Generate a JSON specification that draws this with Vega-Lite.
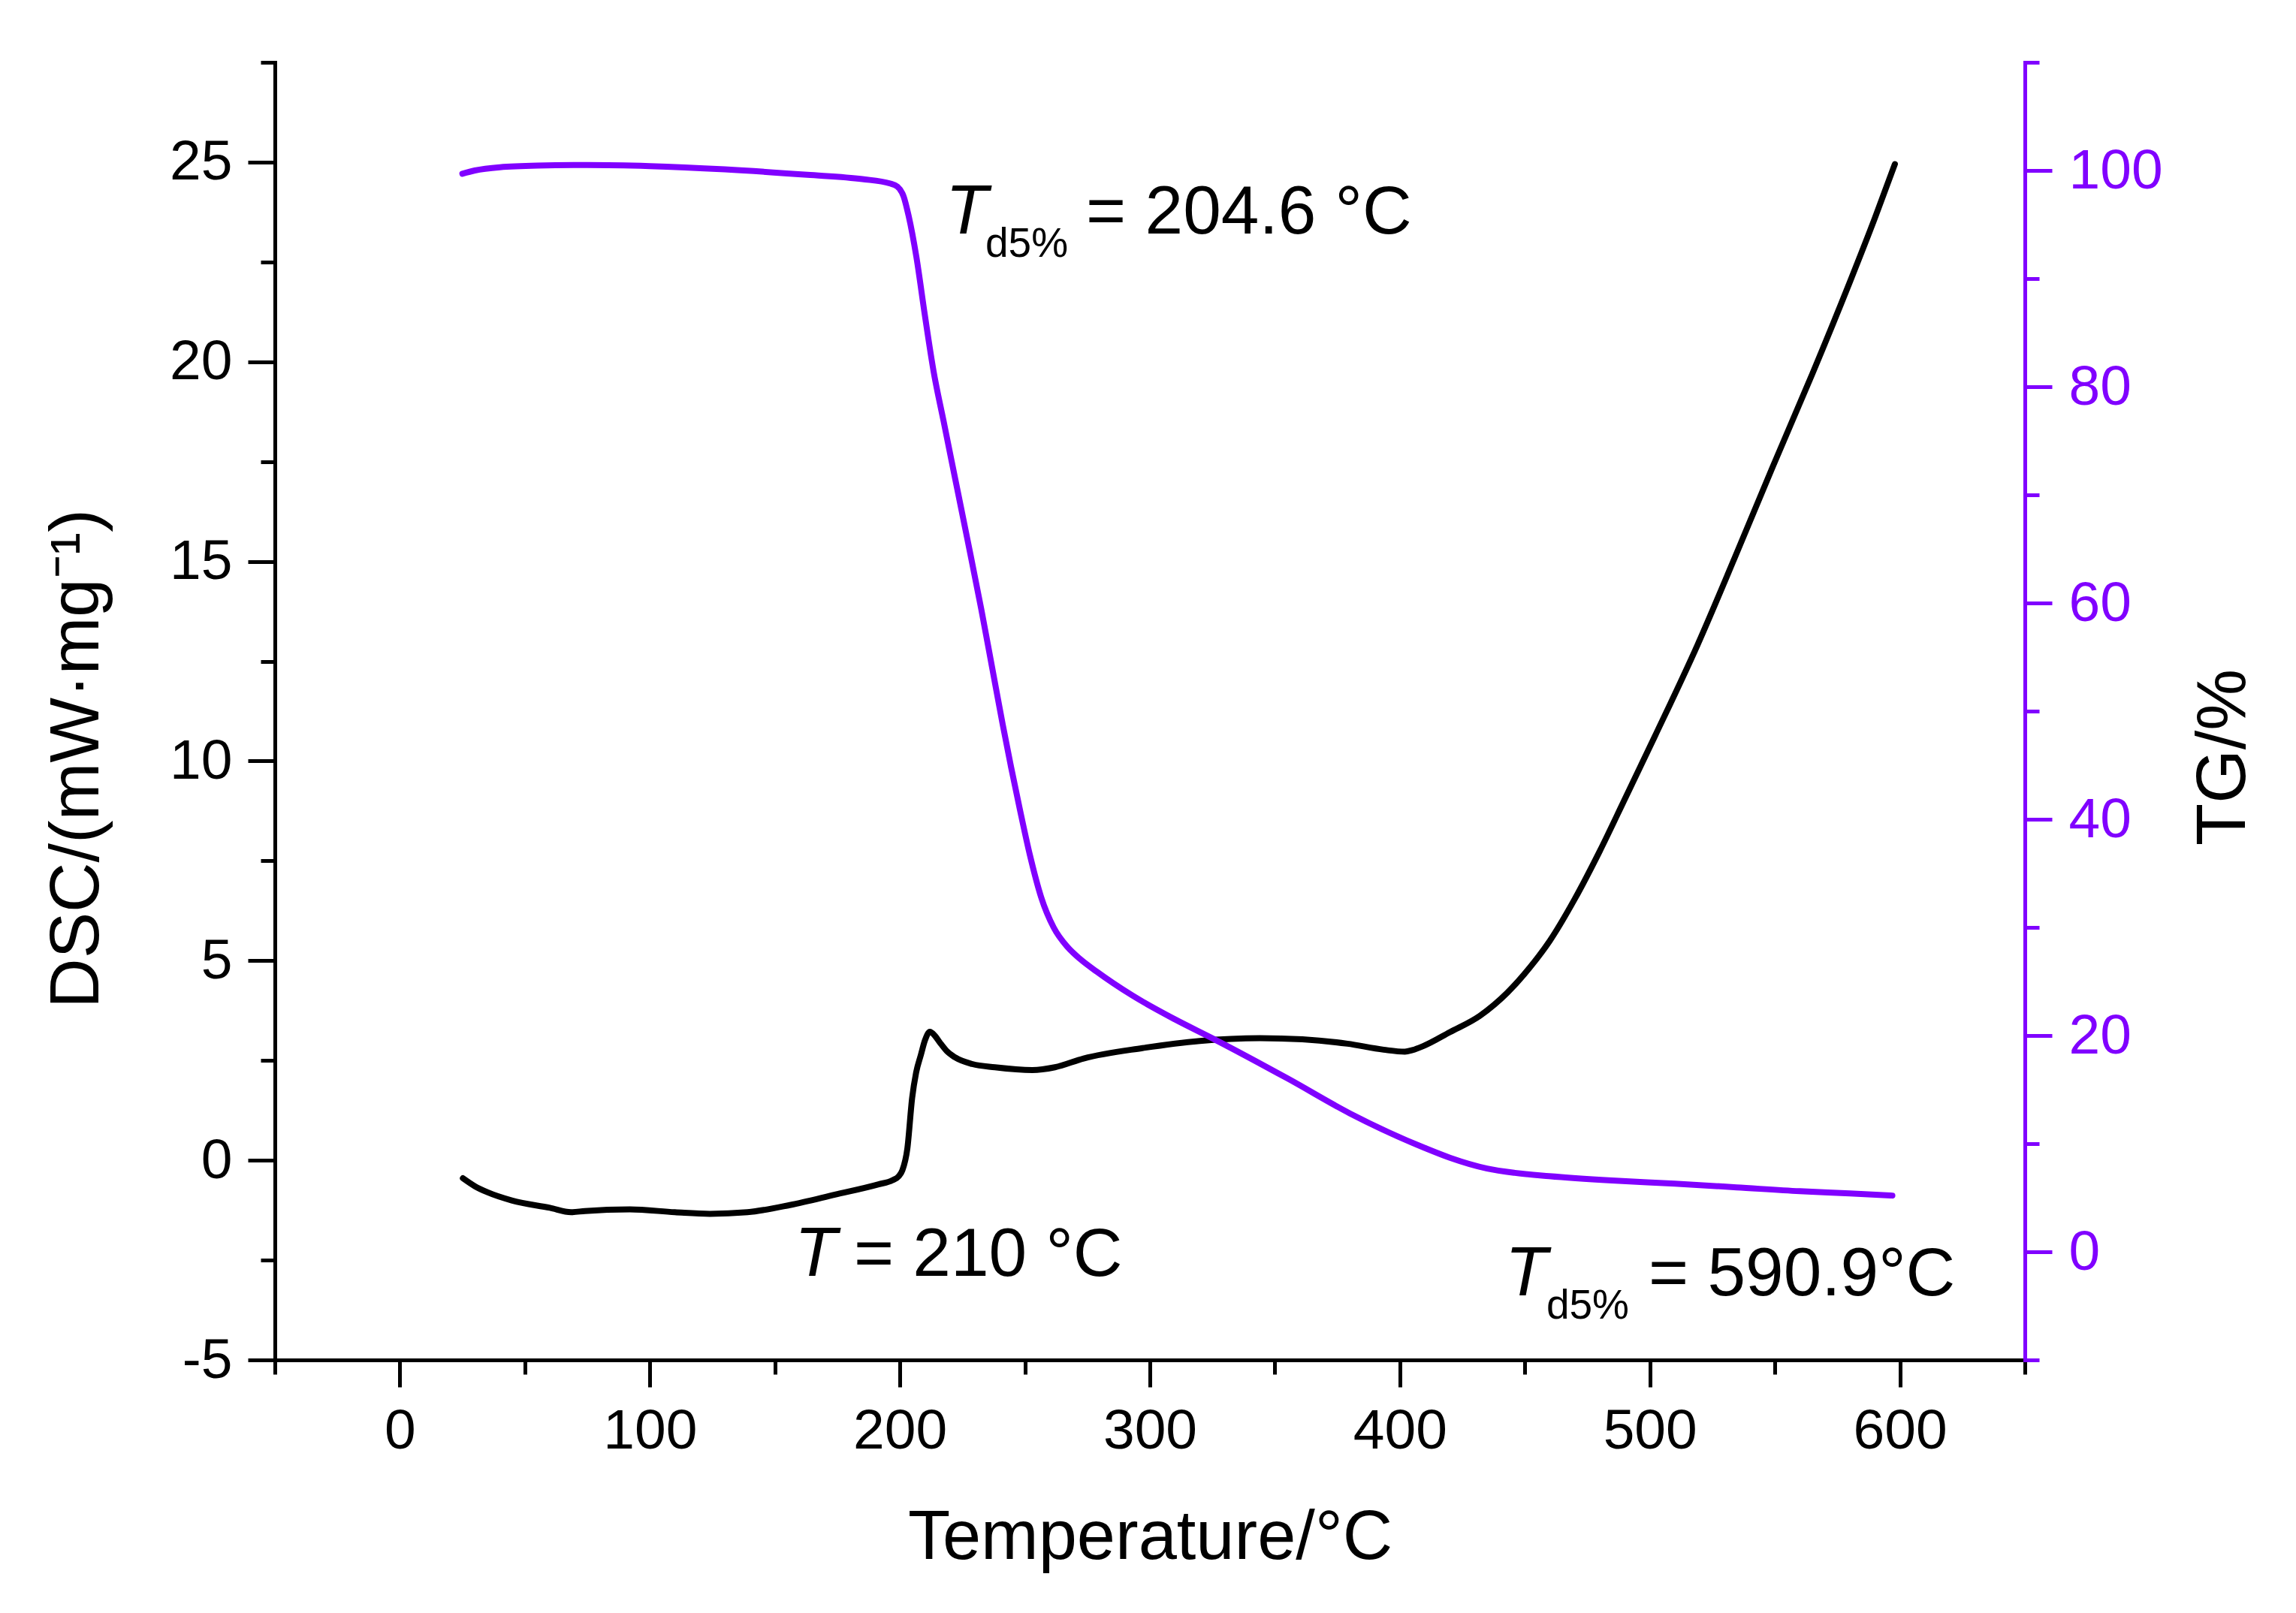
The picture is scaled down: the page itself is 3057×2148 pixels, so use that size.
{
  "$schema": "https://vega.github.io/schema/vega-lite/v6.json",
  "width": 2330,
  "height": 1728,
  "autosize": "none",
  "padding": {"left": 366, "top": 83, "right": 361, "bottom": 337},
  "background": "white",
  "config": {
    "view": {"stroke": null},
    "font": "Liberation Sans",
    "axis": {
      "grid": false,
      "domainWidth": 5,
      "tickWidth": 5,
      "domainCap": "square",
      "labelFont": "Liberation Sans",
      "labelFontSize": 75,
      "titleFont": "Liberation Sans",
      "titleFontSize": 92,
      "titleFontWeight": "normal",
      "labelOverlap": false,
      "labelFlush": false,
      "labelColor": "black",
      "titleColor": "black",
      "domainColor": "black",
      "tickColor": "black"
    }
  },
  "datasets": {
    "dsc": [
      {"T": 25.2, "DSC": -0.45}, {"T": 30, "DSC": -0.65}, {"T": 35, "DSC": -0.8},
      {"T": 45, "DSC": -1.01}, {"T": 60, "DSC": -1.19}, {"T": 68.5, "DSC": -1.3},
      {"T": 74, "DSC": -1.27}, {"T": 92, "DSC": -1.23}, {"T": 110, "DSC": -1.3},
      {"T": 124, "DSC": -1.34}, {"T": 139, "DSC": -1.3}, {"T": 156, "DSC": -1.12},
      {"T": 174, "DSC": -0.86}, {"T": 191.5, "DSC": -0.6}, {"T": 197, "DSC": -0.5},
      {"T": 199.5, "DSC": -0.4}, {"T": 201, "DSC": -0.25}, {"T": 203, "DSC": 0.3},
      {"T": 204.9, "DSC": 1.56}, {"T": 206.5, "DSC": 2.2}, {"T": 208.4, "DSC": 2.64},
      {"T": 210, "DSC": 3.0}, {"T": 212, "DSC": 3.22}, {"T": 214, "DSC": 3.12},
      {"T": 216, "DSC": 2.95}, {"T": 218.7, "DSC": 2.74}, {"T": 222, "DSC": 2.58},
      {"T": 229, "DSC": 2.41}, {"T": 238, "DSC": 2.33}, {"T": 253, "DSC": 2.26},
      {"T": 262, "DSC": 2.33}, {"T": 273.5, "DSC": 2.55}, {"T": 297, "DSC": 2.81},
      {"T": 320, "DSC": 2.99}, {"T": 344, "DSC": 3.06}, {"T": 361, "DSC": 3.03},
      {"T": 379, "DSC": 2.92}, {"T": 393.5, "DSC": 2.77}, {"T": 402, "DSC": 2.72},
      {"T": 405, "DSC": 2.76}, {"T": 409.3, "DSC": 2.86}, {"T": 420, "DSC": 3.21},
      {"T": 432, "DSC": 3.62}, {"T": 443, "DSC": 4.2}, {"T": 452, "DSC": 4.83},
      {"T": 460, "DSC": 5.5}, {"T": 470, "DSC": 6.55}, {"T": 480, "DSC": 7.75},
      {"T": 490, "DSC": 9.05}, {"T": 502, "DSC": 10.62}, {"T": 519, "DSC": 12.9},
      {"T": 534, "DSC": 15.1}, {"T": 549, "DSC": 17.35}, {"T": 565, "DSC": 19.7},
      {"T": 580, "DSC": 22.0}, {"T": 590, "DSC": 23.6}, {"T": 598, "DSC": 24.95}
    ],
    "tg": [
      {"T": 25, "TG": 99.7}, {"T": 30, "TG": 100.0}, {"T": 40, "TG": 100.3},
      {"T": 55, "TG": 100.45}, {"T": 75, "TG": 100.5}, {"T": 100, "TG": 100.4},
      {"T": 130, "TG": 100.1}, {"T": 163, "TG": 99.6}, {"T": 185, "TG": 99.2},
      {"T": 196, "TG": 98.8}, {"T": 199, "TG": 98.5}, {"T": 201.5, "TG": 97.6},
      {"T": 203.5, "TG": 95.8}, {"T": 206.6, "TG": 92.0}, {"T": 210, "TG": 86.6},
      {"T": 213.5, "TG": 81.4}, {"T": 217.5, "TG": 76.8}, {"T": 222.2, "TG": 71.4},
      {"T": 227, "TG": 65.9}, {"T": 232.5, "TG": 59.5}, {"T": 237, "TG": 53.9},
      {"T": 241.1, "TG": 48.8}, {"T": 244.5, "TG": 44.8}, {"T": 248.1, "TG": 40.8},
      {"T": 252, "TG": 36.7}, {"T": 256.5, "TG": 32.8}, {"T": 261.5, "TG": 30.0},
      {"T": 267, "TG": 28.2}, {"T": 272, "TG": 27.1}, {"T": 278.8, "TG": 25.9},
      {"T": 293, "TG": 23.7}, {"T": 310, "TG": 21.5}, {"T": 325.4, "TG": 19.7},
      {"T": 355.3, "TG": 16.0}, {"T": 380, "TG": 12.8}, {"T": 410, "TG": 9.6},
      {"T": 420, "TG": 8.7}, {"T": 434.9, "TG": 7.7}, {"T": 446, "TG": 7.3},
      {"T": 459.7, "TG": 7.0}, {"T": 484.8, "TG": 6.6}, {"T": 510, "TG": 6.3},
      {"T": 534.7, "TG": 5.96}, {"T": 560, "TG": 5.6}, {"T": 580, "TG": 5.4},
      {"T": 597, "TG": 5.2}
    ],
    "labels": [
      {"T": 218.3, "DSC": 23.21, "text": "T", "part": "it"},
      {"T": 234.2, "DSC": 22.62, "text": "d5%", "part": "sub"},
      {"T": 274.5, "DSC": 23.21, "text": "= 204.6 °C", "part": "main"},
      {"T": 157.9, "DSC": -2.9, "text": "T", "part": "it"},
      {"T": 181.6, "DSC": -2.9, "text": "= 210 °C", "part": "main"},
      {"T": 442.1, "DSC": -3.39, "text": "T", "part": "it"},
      {"T": 458.6, "DSC": -3.97, "text": "d5%", "part": "sub"},
      {"T": 499.5, "DSC": -3.39, "text": "= 590.9°C", "part": "main"}
    ]
  },
  "encoding": {
    "x": {
      "field": "T",
      "type": "quantitative",
      "scale": {"domain": [-50, 650], "nice": false, "zero": false},
      "axis": {
        "title": "Temperature/°C",
        "values": [-50, 0, 50, 100, 150, 200, 250, 300, 350, 400, 450, 500, 550, 600, 650],
        "labelExpr": "datum.value % 100 === 0 ? '' + datum.value : ''",
        "tickSize": {"condition": {"test": "datum.value % 100 === 0", "value": 36}, "value": 19},
        "labelPadding": 22,
        "titlePadding": 59
      }
    }
  },
  "layer": [
    {
      "encoding": {
        "y": {
          "field": "DSC",
          "type": "quantitative",
          "scale": {"domain": [-5, 27.5], "nice": false, "zero": false},
          "axis": {
            "title": "DSC/(mW·mg⁻¹)",
            "values": [-5, -2.5, 0, 2.5, 5, 7.5, 10, 12.5, 15, 17.5, 20, 22.5, 25, 27.5],
            "labelExpr": "datum.value % 5 === 0 ? '' + datum.value : ''",
            "tickSize": {"condition": {"test": "datum.value % 5 === 0", "value": 36}, "value": 19},
            "labelPadding": 21,
            "titlePadding": 76,
            "titleY": 927
          }
        }
      },
      "layer": [
        {
          "data": {"name": "dsc"},
          "mark": {"type": "line", "color": "black", "strokeWidth": 8, "interpolate": "monotone", "strokeCap": "round", "strokeJoin": "round"}
        },
        {
          "data": {"name": "labels"},
          "transform": [{"filter": "datum.part === 'it'"}],
          "mark": {"type": "text", "align": "left", "baseline": "alphabetic", "fontSize": 92, "fontStyle": "italic", "font": "Liberation Sans", "color": "black"},
          "encoding": {"text": {"field": "text"}}
        },
        {
          "data": {"name": "labels"},
          "transform": [{"filter": "datum.part === 'sub'"}],
          "mark": {"type": "text", "align": "left", "baseline": "alphabetic", "fontSize": 55, "font": "Liberation Sans", "color": "black"},
          "encoding": {"text": {"field": "text"}}
        },
        {
          "data": {"name": "labels"},
          "transform": [{"filter": "datum.part === 'main'"}],
          "mark": {"type": "text", "align": "left", "baseline": "alphabetic", "fontSize": 91, "font": "Liberation Sans", "color": "black"},
          "encoding": {"text": {"field": "text"}}
        }
      ]
    },
    {
      "data": {"name": "tg"},
      "mark": {"type": "line", "color": "#8000ff", "strokeWidth": 8, "interpolate": "monotone", "strokeCap": "round", "strokeJoin": "round"},
      "encoding": {
        "y": {
          "field": "TG",
          "type": "quantitative",
          "scale": {"domain": [-10, 110], "nice": false, "zero": false},
          "axis": {
            "orient": "right",
            "title": "TG/%",
            "values": [-10, 0, 10, 20, 30, 40, 50, 60, 70, 80, 90, 100, 110],
            "labelExpr": "datum.value % 20 === 0 ? '' + datum.value : ''",
            "tickSize": {"condition": {"test": "datum.value % 20 === 0", "value": 36}, "value": 19},
            "labelPadding": 22,
            "labelColor": "#8000ff",
            "domainColor": "#8000ff",
            "tickColor": "#8000ff",
            "titleColor": "black",
            "titleAngle": 270,
            "titleBaseline": "top",
            "titlePadding": 36,
            "titleY": 925
          }
        }
      }
    }
  ],
  "resolve": {"scale": {"y": "independent"}}
}
